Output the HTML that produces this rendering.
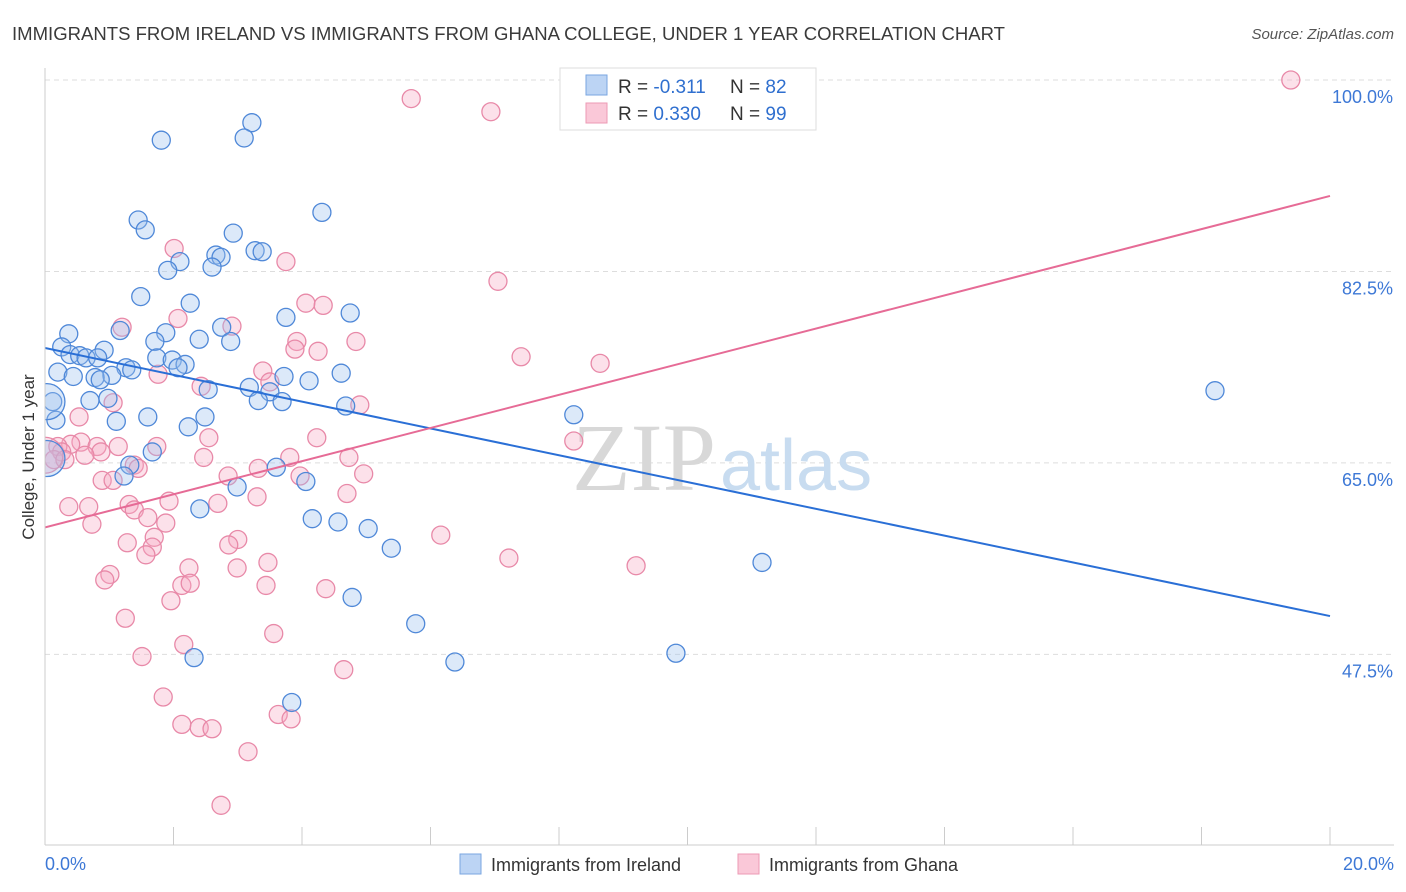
<!DOCTYPE html>
<html><head><meta charset="utf-8"><style>
body{margin:0;background:#fff;font-family:"Liberation Sans",sans-serif;}
svg{display:block}
</style></head><body>
<svg id="chart" width="1406" height="892">
<defs><clipPath id="plotclip"><rect x="45" y="60" width="1360" height="785"/></clipPath></defs>
<text x="12" y="40" font-size="18" fill="#3a3a3a" textLength="993" lengthAdjust="spacingAndGlyphs">IMMIGRANTS FROM IRELAND VS IMMIGRANTS FROM GHANA COLLEGE, UNDER 1 YEAR CORRELATION CHART</text>
<text x="1394" y="39" font-size="15" fill="#555" font-style="italic" text-anchor="end">Source: ZipAtlas.com</text>
<g id="grid"></g>
<text x="716" y="490" font-size="96" font-family="Liberation Serif,serif" fill="#d8d8d8" text-anchor="end">ZIP</text>
<text x="720" y="490" font-size="72" fill="#c8dcf0">atlas</text>
<g id="pts" clip-path="url(#plotclip)"></g>
<g id="axes"></g>
<text transform="translate(34,457) rotate(-90)" font-size="17" fill="#333" text-anchor="middle">College, Under 1 year</text>
<g>
<rect x="560" y="68" width="256" height="62" fill="#fff" stroke="#ddd"/>
<rect x="586" y="75" width="21" height="20" fill="#bcd4f4" stroke="#7aa6e0"/>
<rect x="586" y="103" width="21" height="20" fill="#fac8d8" stroke="#ec9ab4"/>
<text x="618" y="93" font-size="19" fill="#333">R = <tspan fill="#2f6fcf">-0.311</tspan></text>
<text x="730" y="93" font-size="19" fill="#333">N = <tspan fill="#2f6fcf">82</tspan></text>
<text x="618" y="120" font-size="19" fill="#333">R = <tspan fill="#2f6fcf">0.330</tspan></text>
<text x="730" y="120" font-size="19" fill="#333">N = <tspan fill="#2f6fcf">99</tspan></text>
</g>
<g>
<rect x="460" y="854" width="21" height="20" fill="#bcd4f4" stroke="#7aa6e0"/>
<text x="491" y="871" font-size="18" fill="#333">Immigrants from Ireland</text>
<rect x="738" y="854" width="21" height="20" fill="#fac8d8" stroke="#ec9ab4"/>
<text x="769" y="871" font-size="18" fill="#333">Immigrants from Ghana</text>
</g>
</svg>
<script>
const yTicks=[100,82.5,65,47.5];
const yTickLabels=["100.0%","82.5%","65.0%","47.5%"];
const xEndLabels=["0.0%","20.0%"];
const blueX=[1.81,3.22,3.10,4.31,1.45,1.56,2.93,3.27,3.38,2.66,2.74,2.10,2.60,1.91,1.49,2.26,4.75,3.75,0.37,1.17,1.88,2.75,2.40,2.89,1.71,0.26,0.39,0.92,0.54,0.64,0.82,1.74,1.98,2.18,2.07,1.26,1.35,1.04,0.20,0.44,0.78,0.86,3.72,4.61,4.11,3.18,3.50,2.54,3.32,3.69,0.70,0.98,0.12,4.68,1.60,2.49,1.11,8.23,18.21,0.17,2.23,1.67,1.32,3.60,1.23,4.06,2.99,2.41,4.16,4.56,5.03,5.39,11.16,4.78,5.77,2.32,6.38,9.82,3.84,0.03,0.03];
const blueY=[94.5,96.1,94.7,87.9,87.2,86.3,86.0,84.4,84.3,84.0,83.8,83.4,82.9,82.6,80.2,79.6,78.7,78.3,76.8,77.1,76.9,77.4,76.3,76.1,76.1,75.6,74.9,75.3,74.8,74.6,74.6,74.6,74.4,74.0,73.7,73.7,73.5,73.0,73.3,72.9,72.8,72.6,72.9,73.2,72.5,71.9,71.5,71.7,70.7,70.6,70.7,70.9,70.6,70.2,69.2,69.2,68.8,69.4,71.6,68.9,68.3,66.0,64.8,64.6,63.8,63.3,62.8,60.8,59.9,59.6,59.0,57.2,55.9,52.7,50.3,47.2,46.8,47.6,43.1,70.6,65.4];
const pinkX=[19.39,5.70,6.94,7.05,2.01,3.75,4.06,4.33,2.07,1.20,2.91,3.92,4.84,3.89,4.25,7.41,8.64,1.76,3.39,3.50,2.43,4.90,1.06,0.53,2.55,4.23,8.23,1.74,0.56,0.40,0.81,0.20,0.26,0.87,1.14,0.62,0.14,0.31,2.47,3.81,4.73,1.39,1.45,3.32,3.97,4.96,2.85,0.89,1.06,4.70,1.93,2.69,3.30,0.37,0.68,1.31,1.39,1.60,0.73,1.88,1.70,3.00,2.86,6.16,1.28,1.67,1.57,3.47,7.22,9.20,2.99,2.24,1.01,0.93,2.13,2.26,3.44,4.37,1.96,1.25,3.56,2.16,1.51,4.65,1.84,3.63,3.83,2.13,2.40,2.60,3.16,2.74,0.0];
const pinkY=[100.0,98.3,97.1,81.6,84.6,83.4,79.6,79.4,78.2,77.4,77.5,76.1,76.1,75.4,75.2,74.7,74.1,73.1,73.4,72.4,72.0,70.3,70.5,69.2,67.3,67.3,67.0,66.5,66.9,66.7,66.5,66.5,66.0,66.0,66.5,65.7,65.3,65.3,65.5,65.5,65.5,64.8,64.5,64.5,63.8,64.0,63.8,63.4,63.4,62.2,61.5,61.3,61.9,61.0,61.0,61.2,60.7,60.0,59.4,59.5,58.2,58.0,57.5,58.4,57.7,57.3,56.6,55.9,56.3,55.6,55.4,55.4,54.8,54.3,53.8,54.0,53.8,53.5,52.4,50.8,49.4,48.4,47.3,46.1,43.6,42.0,41.6,41.1,40.8,40.7,38.6,33.7,65.7];
const blueTrend=[75.5,51.0];
const pinkTrend=[59.1,89.4];
const NS='http://www.w3.org/2000/svg';
const X=v=>45+v/20*1285;
const Y=v=>80+(100-v)*10.94;
function mk(tag,attrs,parent){const e=document.createElementNS(NS,tag);for(const k in attrs)e.setAttribute(k,attrs[k]);parent.appendChild(e);return e;}
const grid=document.getElementById('grid'),axes=document.getElementById('axes'),pts=document.getElementById('pts');
yTicks.forEach((t,i)=>{
 const l=mk('line',{x1:45,x2:1394,y1:Y(t),y2:Y(t),stroke:'#ddd','stroke-dasharray':'5,4'},grid);
 
 
 const tx=mk('text',{x:1393,y:Y(t)+23,'font-size':18,fill:'#3d78d6','text-anchor':'end'},axes);
 tx.textContent=yTickLabels[i];
 
 
});
const ax=mk('line',{x1:45,x2:1394,y1:845,y2:845,stroke:'#ccc'},axes);


const ay=mk('line',{x1:45,x2:45,y1:68,y2:845,stroke:'#ccc'},axes);


for(let i=0;i<=10;i++){const t=mk('line',{x1:X(i*2),x2:X(i*2),y1:827,y2:845,stroke:'#ccc'},axes);
 
 }
[[0,'start',45],[20,'end',1394]].forEach((d,i)=>{const t=mk('text',{x:d[2],y:870,'font-size':18,fill:'#3d78d6','text-anchor':d[1]},axes);t.textContent=xEndLabels[i];
 
 });
function series(xs,ys,fill,stroke,name){xs.forEach((x,i)=>{const big=i===xs.length-1||(name==='ireland-point'&&i===xs.length-2);
 const c=mk('circle',{cx:X(x),cy:Y(ys[i]),r:big?18:9,fill:fill,'fill-opacity':0.35,stroke:stroke,'stroke-width':1.3},pts);
 
 });}
series(pinkX,pinkY,'#f5a8c2','#e889a8','ghana-point');
series(blueX,blueY,'#9cc0ee','#4f88d8','ireland-point');
const bl=mk('line',{x1:X(0),y1:Y(blueTrend[0]),x2:X(20),y2:Y(blueTrend[1]),stroke:'#2a6fd6','stroke-width':2},pts);


const pl=mk('line',{x1:X(0),y1:Y(pinkTrend[0]),x2:X(20),y2:Y(pinkTrend[1]),stroke:'#e66b96','stroke-width':2},pts);


</script>
</body></html>
